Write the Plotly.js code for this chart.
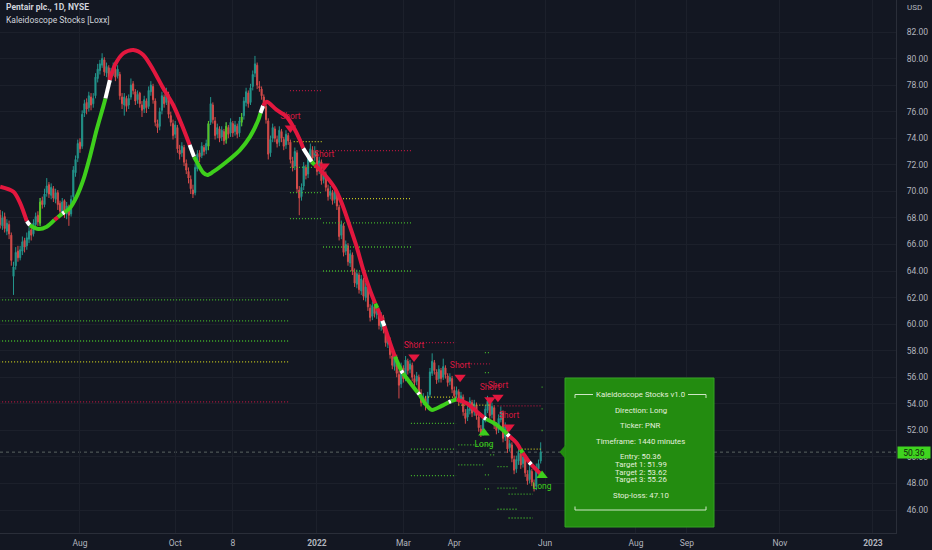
<!DOCTYPE html>
<html><head><meta charset="utf-8">
<script src="https://cdn.plot.ly/plotly-3.0.1.min.js"></script>
<style>html,body{margin:0;padding:0;background:#131722;}#chart{width:932px;height:550px;}</style>
</head><body><div id="chart"></div>
<script>
// bar index 0 = 3 Jan 2022 (daily bars, PNR)
const firstBar = -143;
const opens = [
68.2,67.4,68.1,67.0,67.5,66.7,63.6,64.4,65.5,65.0,
65.5,66.3,65.9,66.4,67.1,66.8,67.5,68.2,67.6,69.3,
69.0,69.9,70.5,69.7,70.2,69.4,69.9,69.1,68.4,69.3,
68.3,68.8,68.3,69.6,71.4,72.5,73.7,73.4,75.9,76.7,
76.3,77.1,76.6,77.2,78.5,79.1,79.5,79.9,78.9,79.3,
78.5,78.9,79.2,78.7,78.8,77.1,76.5,77.0,76.5,77.1,
78.1,77.5,76.9,77.4,76.5,76.2,76.8,76.4,77.5,77.9,
76.8,75.1,74.9,76.1,77.1,76.7,77.3,75.7,75.1,74.3,
74.8,73.1,72.9,73.3,72.1,71.5,70.9,70.1,69.9,71.7,
72.9,72.7,73.3,73.1,73.4,75.2,76.5,75.3,74.3,74.7,
74.1,74.5,73.9,74.8,74.4,75.1,74.5,74.9,74.4,75.2,
75.7,76.7,77.4,76.7,77.9,78.9,79.5,77.9,77.7,77.1,
76.4,75.3,72.9,74.0,74.7,73.9,73.7,74.5,73.9,73.5,
74.2,73.7,72.3,71.9,72.9,70.1,69.6,70.4,71.8,71.3,
72.5,73.1,72.6,72.9,71.6,72.2,70.9,71.3,70.2,69.7,
69.9,69.4,69.9,68.8,66.7,67.4,65.5,65.9,64.6,65.2,
63.9,63.0,63.7,62.5,63.3,62.0,62.7,61.2,60.6,61.3,
60.7,60.9,59.8,60.5,59.5,58.5,58.8,57.6,56.8,57.5,
56.2,55.5,56.7,56.0,57.2,56.6,56.9,55.9,55.7,56.0,
54.8,54.2,54.4,54.0,54.7,56.3,57.1,56.4,55.9,56.5,
56.0,56.7,56.1,55.7,55.9,55.0,54.7,54.9,54.3,54.5,
53.3,53.0,53.5,54.1,53.4,53.9,53.0,52.1,51.9,52.9,
53.5,54.1,53.2,53.7,52.3,52.1,52.8,53.3,51.5,52.2,
50.7,50.9,49.8,49.1,49.7,50.2,49.5,49.9,48.7,48.3,
48.9,48.0,47.8,49.1,49.7];
const highs = [
68.6,68.5,68.4,67.9,67.8,66.9,64.7,65.8,65.9,65.9,
66.6,66.5,66.9,67.3,67.4,67.9,68.4,68.5,69.5,69.6,
70.2,71.0,70.7,70.6,70.4,70.2,70.1,69.3,69.5,69.4,
69.2,69.0,69.7,71.9,72.7,73.9,74.0,76.1,76.9,77.0,
77.5,77.4,77.4,78.9,79.6,79.9,80.4,80.1,79.7,79.5,
79.3,79.7,79.4,79.5,79.0,77.4,77.4,77.2,77.3,78.5,
78.3,77.7,77.6,77.5,76.8,77.2,77.0,77.9,78.3,78.1,
77.0,75.4,76.3,77.5,77.3,77.8,77.5,76.0,75.4,75.3,
75.0,73.5,73.7,73.5,72.4,71.8,71.2,70.5,72.1,73.1,
73.1,73.7,73.5,73.9,75.3,77.1,76.7,75.6,75.1,74.9,
74.9,74.7,75.2,75.0,75.5,75.3,75.3,75.1,75.6,75.9,
77.1,77.8,77.6,78.1,79.1,80.2,79.7,78.3,77.9,77.3,
76.6,75.5,74.2,75.1,74.9,74.2,74.9,74.7,74.1,74.6,
74.4,73.9,72.6,73.3,73.1,70.4,70.6,72.2,72.0,72.9,
73.6,73.4,73.4,73.1,72.6,72.4,71.7,71.5,70.5,70.4,
70.1,70.3,70.1,69.0,67.8,67.6,66.3,66.1,65.6,65.4,
64.2,64.1,63.9,63.7,63.5,63.1,62.9,61.5,61.7,61.5,
61.3,61.1,60.9,60.7,59.8,59.2,59.0,57.9,57.9,57.7,
56.5,57.1,56.9,57.6,57.4,57.3,57.1,56.2,56.4,56.2,
55.1,54.8,54.6,54.9,56.7,57.8,57.3,56.6,56.9,56.7,
57.4,56.9,56.3,56.3,56.1,55.3,55.3,55.1,54.9,54.7,
53.6,53.9,54.5,54.3,54.3,54.1,53.3,52.4,53.1,53.9,
54.6,54.3,54.1,53.9,52.6,53.2,53.8,53.5,52.6,52.4,
51.3,51.1,50.1,50.1,50.6,50.4,50.3,50.1,49.0,49.3,
49.1,48.3,49.5,49.8,51.1];
const lows = [
67.2,67.1,66.9,66.7,66.4,64.4,62.2,64.1,64.7,64.8,
65.2,65.4,65.6,66.1,66.3,66.6,67.3,67.4,67.4,68.7,
68.8,69.6,69.5,69.4,69.2,69.1,68.6,68.1,68.2,68.0,
67.9,67.4,68.1,69.4,71.1,72.2,72.9,73.2,75.6,75.8,
76.0,76.1,76.3,77.0,78.2,78.8,79.3,78.7,78.6,78.1,
78.2,78.7,78.3,78.5,76.9,76.2,75.7,76.0,76.2,76.9,
77.3,76.5,76.6,76.3,75.6,75.9,75.9,76.2,77.2,76.6,
74.9,74.4,74.6,75.8,76.3,76.5,75.5,74.9,73.9,74.0,
72.9,72.4,72.6,71.9,71.3,70.6,69.8,69.5,69.7,71.5,
72.2,72.5,72.7,72.8,73.1,75.0,75.1,73.9,74.0,73.7,
73.8,73.5,73.6,74.0,74.1,74.1,74.2,74.0,74.1,74.9,
75.4,76.4,76.3,76.5,77.6,78.6,77.7,77.5,76.9,76.2,
75.1,72.4,72.6,73.7,73.7,73.3,73.4,73.7,73.1,73.2,
73.5,72.1,71.5,71.6,69.9,68.2,69.3,70.1,70.9,71.0,
72.2,72.2,72.3,71.2,71.3,70.5,70.6,70.0,69.3,69.4,
69.0,69.1,68.6,66.3,66.4,65.1,65.2,64.4,64.3,63.7,
62.8,62.7,62.3,62.2,61.8,61.7,61.0,60.2,60.3,60.5,
60.4,59.6,59.5,59.3,58.3,58.2,57.4,56.6,56.5,56.0,
54.4,55.2,55.6,55.7,56.2,56.3,55.7,55.3,55.4,54.6,
53.8,53.9,53.5,53.7,54.5,56.1,56.2,55.5,55.6,55.6,
55.8,55.9,55.3,55.4,54.8,54.3,54.4,53.9,54.0,53.1,
52.5,52.7,53.2,53.0,53.1,52.8,51.9,51.5,51.6,52.6,
53.3,52.8,52.9,52.1,51.7,51.8,52.6,51.1,51.2,50.3,
50.4,49.6,48.7,48.8,49.4,49.1,49.2,48.5,47.9,48.0,
47.8,47.4,47.5,48.7,49.5];
const closes = [
67.5,68.0,67.2,67.6,66.8,64.8,64.3,65.4,65.0,65.6,
66.2,65.8,66.5,67.0,66.7,67.6,68.1,67.7,69.2,69.0,
69.8,70.4,69.8,70.3,69.5,69.9,69.0,68.5,69.2,68.4,
68.9,68.2,69.4,71.6,72.4,73.6,73.2,75.8,76.6,76.2,
77.2,76.5,77.0,78.6,79.2,79.6,80.0,79.0,79.4,78.4,
79.0,79.3,78.6,79.2,77.2,76.6,77.1,76.4,77.0,78.0,
77.6,76.8,77.3,76.6,76.1,76.9,76.3,77.6,78.0,76.9,
75.2,74.8,76.0,77.2,76.6,77.4,75.8,75.2,74.2,75.0,
73.2,72.8,73.4,72.2,71.6,71.0,70.2,69.8,71.8,72.8,
72.6,73.4,73.0,73.6,75.1,76.6,75.4,74.2,74.8,74.0,
74.6,73.8,74.9,74.3,75.2,74.4,75.0,74.3,75.3,75.6,
76.8,77.5,76.6,77.8,78.8,79.6,78.0,77.8,77.2,76.5,
75.4,72.8,73.9,74.8,74.0,73.6,74.6,74.0,73.4,74.3,
73.8,72.4,71.8,73.0,70.2,69.5,70.3,71.9,71.2,72.6,
73.2,72.5,73.0,71.5,72.3,70.8,71.4,70.3,69.6,70.0,
69.3,70.0,68.9,66.6,67.5,65.4,66.0,64.7,65.3,64.0,
63.1,63.8,62.6,63.4,62.1,62.8,61.3,60.5,61.4,60.8,
61.0,59.9,60.6,59.6,58.6,58.9,57.7,56.9,57.6,56.3,
55.4,56.8,55.9,57.3,56.5,57.0,56.0,55.6,56.1,54.9,
54.1,54.5,53.9,54.6,56.4,57.2,56.5,55.8,56.6,55.9,
56.8,56.2,55.6,56.0,55.1,54.6,55.0,54.2,54.6,53.4,
52.9,53.6,54.2,53.3,54.0,53.1,52.2,51.8,52.8,53.6,
54.2,53.1,53.8,52.4,52.0,52.9,53.4,51.4,52.3,50.6,
51.0,49.9,49.0,49.8,50.3,49.4,50.0,48.8,48.2,49.0,
48.1,47.7,49.2,49.5,50.36];
const limeBars = [-125, -49, -41, -34];

const tickIdx  = [-107, -64, -38, 0, 39, 62, 103, 144, 167, 209, 251];
const tickText = ['Aug', 'Oct', '8', '<b>2022</b>', 'Mar', 'Apr', 'Jun', 'Aug', 'Sep', 'Nov', '<b>2023</b>'];
const priceTicks = [46,48,50,52,54,56,58,60,62,64,66,68,70,72,74,76,78,80,82];

// smoothed trend line knots and state of the segment that starts at each knot (d=down,u=up,n=neutral)
const maIdx = [-143,-137,-134,-131,-129.6,-125.8,-122,-118.5,-117,-115,-114,-111.5,-108.5,-105.5,-102.5,-99.5,-96.5,-95.5,-93.5,-91.2,-87.4,-82.9,-78.4,-73.9,-69.4,-64.9,-60.4,-57.5,-55.5,-54.3,-51.3,-49.5,-46.8,-40.8,-34.8,-30.2,-26.5,-25.5,-24.3,-22.7,-18.2,-13.7,-10.7,-7.7,-6.2,-2.4,-1.0,3.6,8.1,11.2,14.9,17.9,20.9,23.9,26.3,27.3,29.5,30.5,33.0,35.2,38.0,38.8,42.8,45.5,46.3,48.8,51.8,56.3,59.5,60.5,63.1,67.6,72.1,75.4,76.4,81.1,85.9,86.9,90.2,91.9,92.9,95.8,96.8,99.9,101];
const maVal = [70.35,69.97,69.12,67.75,67.45,67.17,67.34,67.85,68.05,68.32,68.42,68.75,69.60,70.86,72.61,74.62,76.38,77.0,78.39,79.52,80.40,80.64,80.27,79.14,77.76,76.50,74.75,73.5,72.6,72.23,71.40,71.23,71.48,72.23,73.11,74.12,75.37,75.9,76.45,76.75,76.13,75.62,74.87,73.87,73.24,72.23,72.0,71.23,70.23,69.10,67.34,65.83,64.07,62.57,61.55,61.2,60.25,59.85,58.56,57.55,56.5,56.3,55.42,54.85,54.7,54.04,53.54,53.84,54.12,54.2,54.34,54.04,53.41,52.96,52.85,52.41,51.72,51.55,51.03,50.55,50.30,49.6,49.42,48.89,48.7];
const maState = [
'd','d','d','n','u','u','u','d','u','n',
'u','u','u','u','u','u','u','n','d','d',
'd','d','d','d','d','d','d','n','u','u',
'u','u','u','u','u','u','u','n','d','d',
'd','d','d','d','n','u','d','d','d','d',
'd','d','d','d','u','d','n','d','d','u',
'n','u','u','n','u','u','u','u','n','u',
'd','d','d','n','u','u','n','d','d','u',
'd','n','d','d','d'];

// signal levels: from bar, to bar, price, kind (t=target, e=entry, s=stop)
const lvlFrom  = [-143.5,-143.5,-143.5,-143.5,-143.5, -12.2,-10.5,-12.2,-12.2,-12.2, 2.7,10.4,2.7,2.7,2.7, 39.7,48.8,42.4,42.4,42.4, 65.5,63.8,63.8,63.8, 75.8,75.8,78.2,75.8,75.8, 81.5,81.5,81.5,81.5, 86.5,86.5,92.4, 101.4,101.4,101.4];
const lvlTo    = [-12.2,-12.2,-12.2,-12.2,-12.2, 2.7,2.7,-0.8,2.7,2.7, 42.9,42.9,42.9,42.9,42.9, 62.8,62.8,62.8,62.8,62.8, 78.0,78.5,79.5,75.0, 78.2,78.2,80.0,78.2,78.2, 101.8,86.5,90.5,90.5, 97.5,97.5,101.8, 102.4,102.4,102.4];
const lvlPrice = [61.82,60.24,58.73,57.15,54.14, 77.58,73.74,71.81,69.90,67.94, 73.06,69.45,67.62,65.81,64.00, 58.6,54.5,52.53,50.58,48.59, 57.0,53.9,50.9,49.4, 57.85,56.35,50.15,48.65,47.6, 53.85,49.27,47.65,46.06, 47.2,45.4,50.58, 55.26,53.62,51.99];
const lvlKind  = ['t','t','t','e','s', 's','e','t','t','t', 's','e','t','t','t', 's','e','t','t','t', 's','e','t','t', 't','t','t','t','t', 's','t','t','t', 't','t','e', 't','t','t'];

const shortIdx   = [-12.0, 3.2, 43.8, 64.6, 78.1, 81.7, 86.7];
const shortPrice = [74.77, 71.9, 57.53, 56.0, 54.3, 54.5, 52.26];
const longIdx    = [75.4, 101.6];
const longPrice  = [51.8, 48.6];

const lastPrice = 50.36;
const boxLines = ['Kaleidoscope Stocks v1.0', 'Direction: Long', 'Ticker: PNR', 'Timeframe: 1440 minutes',
  'Entry: 50.36', 'Target 1: 51.99', 'Target 2: 53.62', 'Target 3: 55.26', 'Stop-loss: 47.10'];

// ---------------- drawing ----------------
const W = 932, H = 550, MR = 36, MB = 17;
const PW = W - MR, PH = H - MB;
const px = v => v / PW;
const py = v => 1 - v / PH;

const RED = '#e3173e', GREEN = '#3ecf1c', WHITE = '#ffffff';
const bars = opens.map((_, k) => firstBar + k);
const traces = [];

// level lines (behind)
const kindColor = {t: '#43b52b', e: '#c3c61f', s: '#b3173f'};
['t','e','s'].forEach(kd => {
  const x = [], y = [];
  lvlKind.forEach((k, j) => { if (k === kd) { x.push(lvlFrom[j], lvlTo[j], null); y.push(lvlPrice[j], lvlPrice[j], null); } });
  traces.push({type: 'scatter', mode: 'lines', x, y, line: {color: kindColor[kd], width: 1.3, dash: '1px,2px'}, hoverinfo: 'skip'});
});

traces.push({
  type: 'candlestick', x: bars, open: opens, high: highs, low: lows, close: closes,
  increasing: {line: {color: '#26a69a', width: 1}, fillcolor: '#26a69a'},
  decreasing: {line: {color: '#ef5350', width: 1}, fillcolor: '#ef5350'},
  whiskerwidth: 0, hoverinfo: 'skip', opacity: 0.88
});

// highlighted bars
{
  const wx = [], wy = [], bx = [], by = [];
  limeBars.forEach(b => {
    const k = b - firstBar;
    wx.push(b, b, null); wy.push(lows[k], highs[k], null);
    bx.push(b, b, null); by.push(opens[k], closes[k], null);
  });
  traces.push({type: 'scatter', mode: 'lines', x: wx, y: wy, line: {color: '#5cc21e', width: 1}, hoverinfo: 'skip'});
  traces.push({type: 'scatter', mode: 'lines', x: bx, y: by, line: {color: '#5cc21e', width: 1.8}, hoverinfo: 'skip'});
}

// trend line runs by state
const stColor = {d: RED, u: GREEN, n: WHITE};
{
  let s = 0;
  while (s < maIdx.length - 1) {
    let e = s;
    while (e + 1 < maIdx.length - 1 && maState[e + 1] === maState[s]) e++;
    traces.push({type: 'scatter', mode: 'lines', x: maIdx.slice(s, e + 2), y: maVal.slice(s, e + 2),
      line: {color: stColor[maState[s]], width: 4, shape: 'spline', smoothing: 0.8}, hoverinfo: 'skip'});
    s = e + 1;
  }
}

traces.push({type: 'scatter', mode: 'markers+text', x: shortIdx, y: shortPrice,
  marker: {symbol: 'triangle-down', size: 10, color: RED}, text: shortIdx.map(() => 'Short'),
  textposition: 'top center', textfont: {family: 'Roboto, sans-serif', size: 8.5, color: '#d8183f'}, hoverinfo: 'skip'});
traces.push({type: 'scatter', mode: 'markers+text', x: longIdx, y: longPrice,
  marker: {symbol: 'triangle-up', size: 10, color: GREEN}, text: longIdx.map(() => 'Long'),
  textposition: 'bottom center', textfont: {family: 'Roboto, sans-serif', size: 8.5, color: GREEN}, hoverinfo: 'skip'});

const boxY = [394.5, 410.3, 425.7, 441.3, 456.7, 464.3, 472.0, 479.7, 495.7];
const annotations = [
  {xref: 'paper', yref: 'paper', x: px(4), y: py(7.5), xanchor: 'left', yanchor: 'middle', showarrow: false,
   text: '<b>Pentair plc., 1D, NYSE</b>', font: {family: 'Roboto, sans-serif', size: 8.5, color: '#d1d4dc'}},
  {xref: 'paper', yref: 'paper', x: px(4), y: py(20), xanchor: 'left', yanchor: 'middle', showarrow: false,
   text: 'Kaleidoscope Stocks [Loxx]', font: {family: 'Roboto, sans-serif', size: 8.5, color: '#d1d4dc'}},
  {xref: 'paper', yref: 'paper', x: 1, xshift: 9, y: py(7.5), xanchor: 'left', yanchor: 'middle', showarrow: false,
   text: 'USD', font: {family: 'Roboto, sans-serif', size: 8, color: '#b2b5be'}},
  {xref: 'paper', yref: 'y', x: 1, xshift: 1, y: lastPrice, xanchor: 'left', yanchor: 'middle', showarrow: false,
   text: lastPrice.toFixed(2), bgcolor: '#3fd41f', width: 32, height: 11, borderpad: 0,
   font: {family: 'Roboto, sans-serif', size: 8.5, color: '#10220c'}}
];
boxLines.forEach((t, j) => annotations.push({xref: 'paper', yref: 'paper', x: px(640.5), y: py(boxY[j]),
  xanchor: 'center', yanchor: 'middle', showarrow: false, text: t,
  font: {family: 'Roboto, sans-serif', size: 7.8, color: '#e4f0de'}}));

const lc = '#cfe6c6';
const shapes = [
  {type: 'line', xref: 'paper', yref: 'y', x0: 0, x1: 1, y0: lastPrice, y1: lastPrice, line: {color: 'rgba(150,160,150,0.55)', width: 1, dash: 'dot'}, layer: 'below'},
  {type: 'rect', xref: 'paper', yref: 'paper', x0: px(565), x1: px(714), y0: py(527), y1: py(378), fillcolor: '#238c10', line: {color: '#34a322', width: 1}},
  {type: 'path', xref: 'paper', yref: 'paper', path: `M ${px(565.5)},${py(445)} L ${px(559.5)},${py(452)} L ${px(565.5)},${py(459)} Z`, fillcolor: '#238c10', line: {width: 0}},
  {type: 'line', xref: 'paper', yref: 'paper', x0: px(575), x1: px(593), y0: py(394.5), y1: py(394.5), line: {color: lc, width: 1}},
  {type: 'line', xref: 'paper', yref: 'paper', x0: px(688), x1: px(706), y0: py(394.5), y1: py(394.5), line: {color: lc, width: 1}},
  {type: 'line', xref: 'paper', yref: 'paper', x0: px(575), x1: px(575), y0: py(394.5), y1: py(398), line: {color: lc, width: 1}},
  {type: 'line', xref: 'paper', yref: 'paper', x0: px(706), x1: px(706), y0: py(394.5), y1: py(398), line: {color: lc, width: 1}},
  {type: 'line', xref: 'paper', yref: 'paper', x0: px(575), x1: px(706), y0: py(510), y1: py(510), line: {color: lc, width: 1}},
  {type: 'line', xref: 'paper', yref: 'paper', x0: px(575), x1: px(575), y0: py(510), y1: py(506.5), line: {color: lc, width: 1}},
  {type: 'line', xref: 'paper', yref: 'paper', x0: px(706), x1: px(706), y0: py(510), y1: py(506.5), line: {color: lc, width: 1}}
];

const layout = {
  width: W, height: H, margin: {l: 0, r: MR, t: 0, b: MB, pad: 0},
  paper_bgcolor: '#131722', plot_bgcolor: '#131722', showlegend: false,
  font: {family: 'Roboto, sans-serif', color: '#b2b5be'},
  xaxis: {range: [-143.1, 261.4], tickvals: tickIdx, ticktext: tickText, showgrid: true, gridcolor: '#1c202b',
    zeroline: false, showline: true, linecolor: '#2a2e39', ticks: '', ticklabelstandoff: 2,
    tickfont: {size: 8.5, color: '#b2b5be'}, rangeslider: {visible: false}, fixedrange: true},
  yaxis: {range: [44.27, 84.41], side: 'right', tickvals: priceTicks, tickformat: '.2f', showgrid: true,
    gridcolor: '#1c202b', zeroline: false, showline: true, linecolor: '#2a2e39', ticks: '', ticklabelstandoff: 8,
    tickfont: {size: 8.5, color: '#b2b5be'}, fixedrange: true},
  annotations, shapes, hovermode: false
};
Plotly.newPlot('chart', traces, layout, {staticPlot: true, displayModeBar: false});
</script></body></html>
